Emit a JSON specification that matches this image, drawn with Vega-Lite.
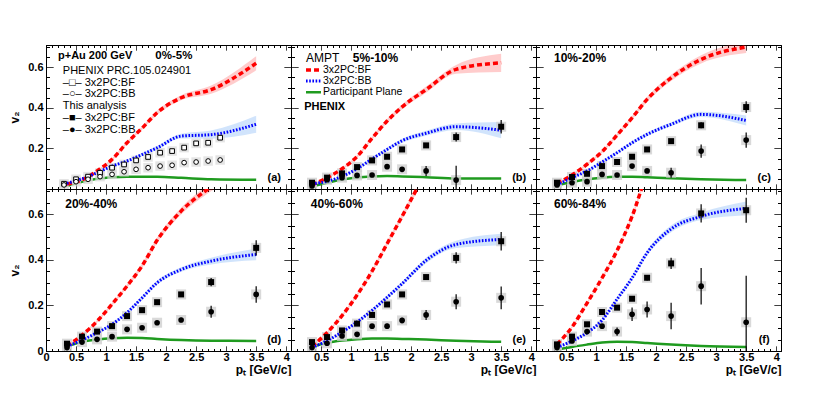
{
"$schema":"https://vega.github.io/schema/vega-lite/v6.json",
"background":"white",
"padding":{"left":8,"top":40,"right":0,"bottom":0},
"config":{
 "view":{"stroke":"black","strokeWidth":1},
 "font":"Liberation Sans",
 "text":{"font":"Liberation Sans","color":"black"},
 "axis":{"domainColor":"black","domainWidth":1,"tickColor":"black","tickWidth":1,"grid":false,"labelFont":"Liberation Sans","labelFontSize":11,"labelFontWeight":"bold","labelColor":"black","labelOverlap":false,"labelFlush":false,"titleFont":"Liberation Sans","titleFontSize":12,"titleFontWeight":"bold","titleColor":"black"},
 "axisX":{"tickCount":40,"tickSize":-5,"labelPadding":5,"titlePadding":2,"titleAnchor":"end","labelExpr":"abs(datum.value*2-round(datum.value*2))<0.01?format(datum.value,'~g'):''","tickDash":{"condition":{"test":"abs(datum.value*2-round(datum.value*2))>0.01","value":[2.5,20]},"value":[1,0]}},
 "axisY":{"tickCount":14,"tickSize":-7,"labelPadding":10,"titlePadding":6,"labelExpr":"abs(datum.value*5-round(datum.value*5))<0.01?format(datum.value,'.1~f'):''","tickDash":{"condition":{"test":"abs(datum.value*5-round(datum.value*5))>0.01","value":[3.5,20]},"value":[1,0]}}
},
"datasets":{
"c":[
{"p":"a","k":"BF","x":0.35,"y":0.025,"lo":0.021,"hi":0.029},{"p":"a","k":"BF","x":0.6,"y":0.045,"lo":0.041,"hi":0.049},{"p":"a","k":"BF","x":0.85,"y":0.089,"lo":0.084,"hi":0.094},{"p":"a","k":"BF","x":1.1,"y":0.146,"lo":0.14,"hi":0.152},{"p":"a","k":"BF","x":1.35,"y":0.228,"lo":0.221,"hi":0.235},{"p":"a","k":"BF","x":1.6,"y":0.3,"lo":0.292,"hi":0.308},{"p":"a","k":"BF","x":1.85,"y":0.376,"lo":0.366,"hi":0.386},{"p":"a","k":"BF","x":2.25,"y":0.45,"lo":0.438,"hi":0.462},{"p":"a","k":"BF","x":2.75,"y":0.49,"lo":0.47,"hi":0.51},{"p":"a","k":"BF","x":3.5,"y":0.62,"lo":0.585,"hi":0.655},
{"p":"a","k":"BB","x":0.35,"y":0.028,"lo":0.024,"hi":0.032},{"p":"a","k":"BB","x":0.6,"y":0.05,"lo":0.046,"hi":0.054},{"p":"a","k":"BB","x":0.85,"y":0.08,"lo":0.075,"hi":0.085},{"p":"a","k":"BB","x":1.1,"y":0.113,"lo":0.107,"hi":0.119},{"p":"a","k":"BB","x":1.35,"y":0.138,"lo":0.131,"hi":0.145},{"p":"a","k":"BB","x":1.6,"y":0.17,"lo":0.162,"hi":0.178},{"p":"a","k":"BB","x":1.85,"y":0.203,"lo":0.194,"hi":0.212},{"p":"a","k":"BB","x":2.25,"y":0.261,"lo":0.249,"hi":0.273},{"p":"a","k":"BB","x":2.75,"y":0.268,"lo":0.248,"hi":0.288},{"p":"a","k":"BB","x":3.5,"y":0.319,"lo":0.277,"hi":0.361},
{"p":"a","k":"PP","x":0.35,"y":0.015},{"p":"a","k":"PP","x":0.6,"y":0.035},{"p":"a","k":"PP","x":0.85,"y":0.05},{"p":"a","k":"PP","x":1.1,"y":0.058},{"p":"a","k":"PP","x":1.35,"y":0.061},{"p":"a","k":"PP","x":1.6,"y":0.061},{"p":"a","k":"PP","x":1.85,"y":0.06},{"p":"a","k":"PP","x":2.25,"y":0.055},{"p":"a","k":"PP","x":2.75,"y":0.048},{"p":"a","k":"PP","x":3.5,"y":0.045},
{"p":"b","k":"BF","x":0.35,"y":0.02,"lo":0.016,"hi":0.024},{"p":"b","k":"BF","x":0.6,"y":0.055,"lo":0.05,"hi":0.06},{"p":"b","k":"BF","x":0.85,"y":0.1,"lo":0.094,"hi":0.106},{"p":"b","k":"BF","x":1.1,"y":0.16,"lo":0.153,"hi":0.167},{"p":"b","k":"BF","x":1.35,"y":0.25,"lo":0.242,"hi":0.258},{"p":"b","k":"BF","x":1.6,"y":0.335,"lo":0.325,"hi":0.345},{"p":"b","k":"BF","x":1.85,"y":0.405,"lo":0.393,"hi":0.417},{"p":"b","k":"BF","x":2.25,"y":0.49,"lo":0.475,"hi":0.505},{"p":"b","k":"BF","x":2.75,"y":0.59,"lo":0.568,"hi":0.612},{"p":"b","k":"BF","x":3.5,"y":0.622,"lo":0.577,"hi":0.667},
{"p":"b","k":"BB","x":0.35,"y":0.025,"lo":0.021,"hi":0.029},{"p":"b","k":"BB","x":0.6,"y":0.038,"lo":0.034,"hi":0.042},{"p":"b","k":"BB","x":0.85,"y":0.062,"lo":0.057,"hi":0.067},{"p":"b","k":"BB","x":1.1,"y":0.1,"lo":0.094,"hi":0.106},{"p":"b","k":"BB","x":1.35,"y":0.148,"lo":0.141,"hi":0.155},{"p":"b","k":"BB","x":1.6,"y":0.195,"lo":0.187,"hi":0.203},{"p":"b","k":"BB","x":1.85,"y":0.238,"lo":0.228,"hi":0.248},{"p":"b","k":"BB","x":2.25,"y":0.275,"lo":0.263,"hi":0.287},{"p":"b","k":"BB","x":2.75,"y":0.307,"lo":0.291,"hi":0.323},{"p":"b","k":"BB","x":3.5,"y":0.29,"lo":0.25,"hi":0.33},
{"p":"b","k":"PP","x":0.35,"y":0.012},{"p":"b","k":"PP","x":0.6,"y":0.031},{"p":"b","k":"PP","x":0.85,"y":0.047},{"p":"b","k":"PP","x":1.1,"y":0.057},{"p":"b","k":"PP","x":1.35,"y":0.062},{"p":"b","k":"PP","x":1.6,"y":0.064},{"p":"b","k":"PP","x":1.85,"y":0.062},{"p":"b","k":"PP","x":2.25,"y":0.058},{"p":"b","k":"PP","x":2.75,"y":0.052},{"p":"b","k":"PP","x":3.5,"y":0.052},
{"p":"c","k":"BF","x":0.35,"y":0.028,"lo":0.024,"hi":0.032},{"p":"c","k":"BF","x":0.6,"y":0.069,"lo":0.064,"hi":0.074},{"p":"c","k":"BF","x":0.85,"y":0.122,"lo":0.116,"hi":0.128},{"p":"c","k":"BF","x":1.1,"y":0.184,"lo":0.177,"hi":0.191},{"p":"c","k":"BF","x":1.35,"y":0.266,"lo":0.258,"hi":0.274},{"p":"c","k":"BF","x":1.6,"y":0.351,"lo":0.341,"hi":0.361},{"p":"c","k":"BF","x":1.85,"y":0.442,"lo":0.43,"hi":0.454},{"p":"c","k":"BF","x":2.25,"y":0.548,"lo":0.533,"hi":0.563},{"p":"c","k":"BF","x":2.75,"y":0.639,"lo":0.619,"hi":0.659},{"p":"c","k":"BF","x":3.5,"y":0.7,"lo":0.67,"hi":0.73},
{"p":"c","k":"BB","x":0.35,"y":0.02,"lo":0.016,"hi":0.024},{"p":"c","k":"BB","x":0.6,"y":0.056,"lo":0.052,"hi":0.06},{"p":"c","k":"BB","x":0.85,"y":0.089,"lo":0.084,"hi":0.094},{"p":"c","k":"BB","x":1.1,"y":0.133,"lo":0.127,"hi":0.139},{"p":"c","k":"BB","x":1.35,"y":0.179,"lo":0.172,"hi":0.186},{"p":"c","k":"BB","x":1.6,"y":0.228,"lo":0.22,"hi":0.236},{"p":"c","k":"BB","x":1.85,"y":0.269,"lo":0.26,"hi":0.278},{"p":"c","k":"BB","x":2.25,"y":0.319,"lo":0.309,"hi":0.329},{"p":"c","k":"BB","x":2.75,"y":0.368,"lo":0.355,"hi":0.381},{"p":"c","k":"BB","x":3.5,"y":0.338,"lo":0.313,"hi":0.363},
{"p":"c","k":"PP","x":0.35,"y":0.018},{"p":"c","k":"PP","x":0.6,"y":0.035},{"p":"c","k":"PP","x":0.85,"y":0.048},{"p":"c","k":"PP","x":1.1,"y":0.056},{"p":"c","k":"PP","x":1.35,"y":0.06},{"p":"c","k":"PP","x":1.6,"y":0.061},{"p":"c","k":"PP","x":1.85,"y":0.058},{"p":"c","k":"PP","x":2.25,"y":0.053},{"p":"c","k":"PP","x":2.75,"y":0.048},{"p":"c","k":"PP","x":3.5,"y":0.044},
{"p":"d","k":"BF","x":0.35,"y":0.022,"lo":0.018,"hi":0.026},{"p":"d","k":"BF","x":0.6,"y":0.07,"lo":0.065,"hi":0.075},{"p":"d","k":"BF","x":0.85,"y":0.13,"lo":0.124,"hi":0.136},{"p":"d","k":"BF","x":1.1,"y":0.205,"lo":0.198,"hi":0.212},{"p":"d","k":"BF","x":1.35,"y":0.285,"lo":0.277,"hi":0.293},{"p":"d","k":"BF","x":1.6,"y":0.373,"lo":0.363,"hi":0.383},{"p":"d","k":"BF","x":1.85,"y":0.485,"lo":0.473,"hi":0.497},{"p":"d","k":"BF","x":2.25,"y":0.613,"lo":0.598,"hi":0.628},{"p":"d","k":"BF","x":2.75,"y":0.72,"lo":0.7,"hi":0.74},{"p":"d","k":"BF","x":3.5,"y":0.85,"lo":0.82,"hi":0.88},
{"p":"d","k":"BB","x":0.35,"y":0.02,"lo":0.016,"hi":0.024},{"p":"d","k":"BB","x":0.6,"y":0.048,"lo":0.044,"hi":0.052},{"p":"d","k":"BB","x":0.85,"y":0.08,"lo":0.075,"hi":0.085},{"p":"d","k":"BB","x":1.1,"y":0.117,"lo":0.111,"hi":0.123},{"p":"d","k":"BB","x":1.35,"y":0.168,"lo":0.161,"hi":0.175},{"p":"d","k":"BB","x":1.6,"y":0.233,"lo":0.225,"hi":0.241},{"p":"d","k":"BB","x":1.85,"y":0.299,"lo":0.29,"hi":0.308},{"p":"d","k":"BB","x":2.25,"y":0.357,"lo":0.347,"hi":0.367},{"p":"d","k":"BB","x":2.75,"y":0.394,"lo":0.379,"hi":0.409},{"p":"d","k":"BB","x":3.5,"y":0.423,"lo":0.398,"hi":0.448},
{"p":"d","k":"PP","x":0.35,"y":0.02},{"p":"d","k":"PP","x":0.6,"y":0.04},{"p":"d","k":"PP","x":0.85,"y":0.05},{"p":"d","k":"PP","x":1.1,"y":0.056},{"p":"d","k":"PP","x":1.35,"y":0.058},{"p":"d","k":"PP","x":1.6,"y":0.057},{"p":"d","k":"PP","x":1.85,"y":0.053},{"p":"d","k":"PP","x":2.25,"y":0.048},{"p":"d","k":"PP","x":2.75,"y":0.045},{"p":"d","k":"PP","x":3.5,"y":0.044},
{"p":"e","k":"BF","x":0.35,"y":0.02,"lo":0.016,"hi":0.024},{"p":"e","k":"BF","x":0.6,"y":0.08,"lo":0.075,"hi":0.085},{"p":"e","k":"BF","x":0.85,"y":0.155,"lo":0.149,"hi":0.161},{"p":"e","k":"BF","x":1.1,"y":0.245,"lo":0.238,"hi":0.252},{"p":"e","k":"BF","x":1.35,"y":0.35,"lo":0.342,"hi":0.358},{"p":"e","k":"BF","x":1.6,"y":0.47,"lo":0.46,"hi":0.48},{"p":"e","k":"BF","x":1.85,"y":0.59,"lo":0.578,"hi":0.602},{"p":"e","k":"BF","x":2.25,"y":0.78,"lo":0.765,"hi":0.795},{"p":"e","k":"BF","x":2.75,"y":0.95,"lo":0.93,"hi":0.97},{"p":"e","k":"BF","x":3.5,"y":1.05,"lo":1.02,"hi":1.08},
{"p":"e","k":"BB","x":0.35,"y":0.015,"lo":0.011,"hi":0.019},{"p":"e","k":"BB","x":0.6,"y":0.045,"lo":0.041,"hi":0.049},{"p":"e","k":"BB","x":0.85,"y":0.083,"lo":0.078,"hi":0.088},{"p":"e","k":"BB","x":1.1,"y":0.127,"lo":0.121,"hi":0.133},{"p":"e","k":"BB","x":1.35,"y":0.178,"lo":0.171,"hi":0.185},{"p":"e","k":"BB","x":1.6,"y":0.235,"lo":0.227,"hi":0.243},{"p":"e","k":"BB","x":1.85,"y":0.295,"lo":0.286,"hi":0.304},{"p":"e","k":"BB","x":2.25,"y":0.397,"lo":0.385,"hi":0.409},{"p":"e","k":"BB","x":2.75,"y":0.467,"lo":0.451,"hi":0.483},{"p":"e","k":"BB","x":3.5,"y":0.489,"lo":0.464,"hi":0.514},
{"p":"e","k":"PP","x":0.35,"y":0.018},{"p":"e","k":"PP","x":0.6,"y":0.036},{"p":"e","k":"PP","x":0.85,"y":0.046},{"p":"e","k":"PP","x":1.1,"y":0.052},{"p":"e","k":"PP","x":1.35,"y":0.055},{"p":"e","k":"PP","x":1.6,"y":0.055},{"p":"e","k":"PP","x":1.85,"y":0.053},{"p":"e","k":"PP","x":2.25,"y":0.05},{"p":"e","k":"PP","x":2.75,"y":0.045},{"p":"e","k":"PP","x":3.5,"y":0.04},
{"p":"f","k":"BF","x":0.35,"y":0.029,"lo":0.025,"hi":0.033},{"p":"f","k":"BF","x":0.6,"y":0.105,"lo":0.1,"hi":0.11},{"p":"f","k":"BF","x":0.85,"y":0.21,"lo":0.204,"hi":0.216},{"p":"f","k":"BF","x":1.1,"y":0.32,"lo":0.313,"hi":0.327},{"p":"f","k":"BF","x":1.35,"y":0.44,"lo":0.432,"hi":0.448},{"p":"f","k":"BF","x":1.6,"y":0.59,"lo":0.58,"hi":0.6},{"p":"f","k":"BF","x":1.85,"y":0.78,"lo":0.768,"hi":0.792},{"p":"f","k":"BF","x":2.25,"y":1.0,"lo":0.985,"hi":1.015},{"p":"f","k":"BF","x":2.75,"y":1.2,"lo":1.18,"hi":1.22},{"p":"f","k":"BF","x":3.5,"y":1.3,"lo":1.27,"hi":1.33},
{"p":"f","k":"BB","x":0.35,"y":0.015,"lo":0.011,"hi":0.019},{"p":"f","k":"BB","x":0.6,"y":0.044,"lo":0.04,"hi":0.048},{"p":"f","k":"BB","x":0.85,"y":0.08,"lo":0.075,"hi":0.085},{"p":"f","k":"BB","x":1.1,"y":0.135,"lo":0.129,"hi":0.141},{"p":"f","k":"BB","x":1.35,"y":0.227,"lo":0.219,"hi":0.235},{"p":"f","k":"BB","x":1.6,"y":0.32,"lo":0.31,"hi":0.33},{"p":"f","k":"BB","x":1.85,"y":0.43,"lo":0.418,"hi":0.442},{"p":"f","k":"BB","x":2.25,"y":0.535,"lo":0.52,"hi":0.55},{"p":"f","k":"BB","x":2.75,"y":0.59,"lo":0.574,"hi":0.606},{"p":"f","k":"BB","x":3.5,"y":0.625,"lo":0.595,"hi":0.655},
{"p":"f","k":"PP","x":0.35,"y":0.006},{"p":"f","k":"PP","x":0.6,"y":0.018},{"p":"f","k":"PP","x":0.85,"y":0.028},{"p":"f","k":"PP","x":1.1,"y":0.037},{"p":"f","k":"PP","x":1.35,"y":0.04},{"p":"f","k":"PP","x":1.6,"y":0.039},{"p":"f","k":"PP","x":1.85,"y":0.035},{"p":"f","k":"PP","x":2.25,"y":0.028},{"p":"f","k":"PP","x":2.75,"y":0.022},{"p":"f","k":"PP","x":3.5,"y":0.018}
],
"pt":[
{"p":"a","k":"oF","x":0.3,"y":0.026},{"p":"a","k":"oF","x":0.5,"y":0.048},{"p":"a","k":"oF","x":0.7,"y":0.061},{"p":"a","k":"oF","x":0.9,"y":0.08},{"p":"a","k":"oF","x":1.1,"y":0.105},{"p":"a","k":"oF","x":1.3,"y":0.121},{"p":"a","k":"oF","x":1.5,"y":0.141},{"p":"a","k":"oF","x":1.7,"y":0.158},{"p":"a","k":"oF","x":1.9,"y":0.179},{"p":"a","k":"oF","x":2.1,"y":0.187},{"p":"a","k":"oF","x":2.3,"y":0.204},{"p":"a","k":"oF","x":2.5,"y":0.225},{"p":"a","k":"oF","x":2.7,"y":0.228},{"p":"a","k":"oF","x":2.9,"y":0.253},
{"p":"a","k":"oB","x":0.3,"y":0.02},{"p":"a","k":"oB","x":0.5,"y":0.036},{"p":"a","k":"oB","x":0.7,"y":0.048},{"p":"a","k":"oB","x":0.9,"y":0.061},{"p":"a","k":"oB","x":1.1,"y":0.072},{"p":"a","k":"oB","x":1.3,"y":0.085},{"p":"a","k":"oB","x":1.5,"y":0.097},{"p":"a","k":"oB","x":1.7,"y":0.105},{"p":"a","k":"oB","x":1.9,"y":0.113},{"p":"a","k":"oB","x":2.1,"y":0.117},{"p":"a","k":"oB","x":2.3,"y":0.13},{"p":"a","k":"oB","x":2.5,"y":0.133},{"p":"a","k":"oB","x":2.7,"y":0.138},{"p":"a","k":"oB","x":2.9,"y":0.143},
{"p":"b","k":"F","x":0.35,"y":0.031,"lo":0.021,"hi":0.041},{"p":"b","k":"F","x":0.6,"y":0.056,"lo":0.048,"hi":0.064},{"p":"b","k":"F","x":0.85,"y":0.077,"lo":0.071,"hi":0.083},{"p":"b","k":"F","x":1.1,"y":0.108,"lo":0.102,"hi":0.114},{"p":"b","k":"F","x":1.35,"y":0.141,"lo":0.135,"hi":0.147},{"p":"b","k":"F","x":1.6,"y":0.159,"lo":0.152,"hi":0.166},{"p":"b","k":"F","x":1.85,"y":0.195,"lo":0.187,"hi":0.203},{"p":"b","k":"F","x":2.25,"y":0.215,"lo":0.205,"hi":0.225},{"p":"b","k":"F","x":2.75,"y":0.256,"lo":0.234,"hi":0.278},{"p":"b","k":"F","x":3.5,"y":0.307,"lo":0.274,"hi":0.34},
{"p":"b","k":"B","x":0.35,"y":0.015,"lo":0.007,"hi":0.023},{"p":"b","k":"B","x":0.6,"y":0.046,"lo":0.038,"hi":0.054},{"p":"b","k":"B","x":0.85,"y":0.056,"lo":0.05,"hi":0.062},{"p":"b","k":"B","x":1.1,"y":0.067,"lo":0.061,"hi":0.073},{"p":"b","k":"B","x":1.35,"y":0.069,"lo":0.063,"hi":0.075},{"p":"b","k":"B","x":1.6,"y":0.11,"lo":0.102,"hi":0.118},{"p":"b","k":"B","x":1.85,"y":0.097,"lo":0.085,"hi":0.109},{"p":"b","k":"B","x":2.25,"y":0.089,"lo":0.064,"hi":0.114},{"p":"b","k":"B","x":2.75,"y":0.044,"lo":-0.013,"hi":0.115},
{"p":"c","k":"F","x":0.35,"y":0.031,"lo":0.023,"hi":0.039},{"p":"c","k":"F","x":0.6,"y":0.059,"lo":0.052,"hi":0.066},{"p":"c","k":"F","x":0.85,"y":0.075,"lo":0.069,"hi":0.081},{"p":"c","k":"F","x":1.1,"y":0.113,"lo":0.107,"hi":0.119},{"p":"c","k":"F","x":1.35,"y":0.133,"lo":0.127,"hi":0.139},{"p":"c","k":"F","x":1.6,"y":0.159,"lo":0.153,"hi":0.165},{"p":"c","k":"F","x":1.85,"y":0.195,"lo":0.188,"hi":0.202},{"p":"c","k":"F","x":2.25,"y":0.236,"lo":0.228,"hi":0.244},{"p":"c","k":"F","x":2.75,"y":0.314,"lo":0.299,"hi":0.329},{"p":"c","k":"F","x":3.5,"y":0.404,"lo":0.375,"hi":0.433},
{"p":"c","k":"B","x":0.35,"y":0.02,"lo":0.014,"hi":0.026},{"p":"c","k":"B","x":0.6,"y":0.031,"lo":0.025,"hi":0.037},{"p":"c","k":"B","x":0.85,"y":0.036,"lo":0.03,"hi":0.042},{"p":"c","k":"B","x":1.1,"y":0.072,"lo":0.066,"hi":0.078},{"p":"c","k":"B","x":1.35,"y":0.069,"lo":0.063,"hi":0.075},{"p":"c","k":"B","x":1.6,"y":0.113,"lo":0.105,"hi":0.121},{"p":"c","k":"B","x":1.85,"y":0.089,"lo":0.079,"hi":0.099},{"p":"c","k":"B","x":2.25,"y":0.08,"lo":0.055,"hi":0.105},{"p":"c","k":"B","x":2.75,"y":0.187,"lo":0.154,"hi":0.22},{"p":"c","k":"B","x":3.5,"y":0.241,"lo":0.204,"hi":0.278},
{"p":"d","k":"F","x":0.35,"y":0.032,"lo":0.025,"hi":0.039},{"p":"d","k":"F","x":0.6,"y":0.063,"lo":0.057,"hi":0.069},{"p":"d","k":"F","x":0.85,"y":0.085,"lo":0.079,"hi":0.091},{"p":"d","k":"F","x":1.1,"y":0.109,"lo":0.103,"hi":0.115},{"p":"d","k":"F","x":1.35,"y":0.153,"lo":0.147,"hi":0.159},{"p":"d","k":"F","x":1.6,"y":0.179,"lo":0.173,"hi":0.185},{"p":"d","k":"F","x":1.85,"y":0.214,"lo":0.208,"hi":0.22},{"p":"d","k":"F","x":2.25,"y":0.248,"lo":0.24,"hi":0.256},{"p":"d","k":"F","x":2.75,"y":0.302,"lo":0.284,"hi":0.32},{"p":"d","k":"F","x":3.5,"y":0.452,"lo":0.419,"hi":0.485},
{"p":"d","k":"B","x":0.35,"y":0.015,"lo":0.009,"hi":0.021},{"p":"d","k":"B","x":0.6,"y":0.039,"lo":0.033,"hi":0.045},{"p":"d","k":"B","x":0.85,"y":0.051,"lo":0.045,"hi":0.057},{"p":"d","k":"B","x":1.1,"y":0.063,"lo":0.057,"hi":0.069},{"p":"d","k":"B","x":1.35,"y":0.095,"lo":0.089,"hi":0.101},{"p":"d","k":"B","x":1.6,"y":0.102,"lo":0.096,"hi":0.108},{"p":"d","k":"B","x":1.85,"y":0.124,"lo":0.116,"hi":0.132},{"p":"d","k":"B","x":2.25,"y":0.136,"lo":0.126,"hi":0.146},{"p":"d","k":"B","x":2.75,"y":0.172,"lo":0.146,"hi":0.198},{"p":"d","k":"B","x":3.5,"y":0.248,"lo":0.212,"hi":0.284},
{"p":"e","k":"F","x":0.35,"y":0.039,"lo":0.032,"hi":0.046},{"p":"e","k":"F","x":0.6,"y":0.061,"lo":0.055,"hi":0.067},{"p":"e","k":"F","x":0.85,"y":0.09,"lo":0.084,"hi":0.096},{"p":"e","k":"F","x":1.1,"y":0.12,"lo":0.114,"hi":0.126},{"p":"e","k":"F","x":1.35,"y":0.158,"lo":0.152,"hi":0.164},{"p":"e","k":"F","x":1.6,"y":0.204,"lo":0.197,"hi":0.211},{"p":"e","k":"F","x":1.85,"y":0.248,"lo":0.24,"hi":0.256},{"p":"e","k":"F","x":2.25,"y":0.324,"lo":0.314,"hi":0.334},{"p":"e","k":"F","x":2.75,"y":0.408,"lo":0.383,"hi":0.433},{"p":"e","k":"F","x":3.5,"y":0.481,"lo":0.441,"hi":0.521},
{"p":"e","k":"B","x":0.35,"y":0.015,"lo":0.009,"hi":0.021},{"p":"e","k":"B","x":0.6,"y":0.034,"lo":0.028,"hi":0.04},{"p":"e","k":"B","x":0.85,"y":0.066,"lo":0.06,"hi":0.072},{"p":"e","k":"B","x":1.1,"y":0.073,"lo":0.067,"hi":0.079},{"p":"e","k":"B","x":1.35,"y":0.109,"lo":0.103,"hi":0.115},{"p":"e","k":"B","x":1.6,"y":0.109,"lo":0.099,"hi":0.119},{"p":"e","k":"B","x":1.85,"y":0.134,"lo":0.122,"hi":0.146},{"p":"e","k":"B","x":2.25,"y":0.158,"lo":0.136,"hi":0.18},{"p":"e","k":"B","x":2.75,"y":0.216,"lo":0.183,"hi":0.249},{"p":"e","k":"B","x":3.5,"y":0.233,"lo":0.183,"hi":0.283},
{"p":"f","k":"F","x":0.35,"y":0.029,"lo":0.019,"hi":0.039},{"p":"f","k":"F","x":0.6,"y":0.063,"lo":0.053,"hi":0.073},{"p":"f","k":"F","x":0.85,"y":0.117,"lo":0.109,"hi":0.125},{"p":"f","k":"F","x":1.1,"y":0.171,"lo":0.163,"hi":0.179},{"p":"f","k":"F","x":1.35,"y":0.19,"lo":0.18,"hi":0.2},{"p":"f","k":"F","x":1.6,"y":0.229,"lo":0.219,"hi":0.239},{"p":"f","k":"F","x":1.85,"y":0.321,"lo":0.309,"hi":0.333},{"p":"f","k":"F","x":2.25,"y":0.384,"lo":0.359,"hi":0.409},{"p":"f","k":"F","x":2.75,"y":0.603,"lo":0.563,"hi":0.643},{"p":"f","k":"F","x":3.5,"y":0.617,"lo":0.562,"hi":0.672},
{"p":"f","k":"B","x":0.35,"y":0.015,"lo":0.009,"hi":0.021},{"p":"f","k":"B","x":0.6,"y":0.044,"lo":0.038,"hi":0.05},{"p":"f","k":"B","x":0.85,"y":0.085,"lo":0.077,"hi":0.093},{"p":"f","k":"B","x":1.1,"y":0.109,"lo":0.101,"hi":0.117},{"p":"f","k":"B","x":1.35,"y":0.085,"lo":0.067,"hi":0.103},{"p":"f","k":"B","x":1.6,"y":0.161,"lo":0.131,"hi":0.191},{"p":"f","k":"B","x":1.85,"y":0.182,"lo":0.147,"hi":0.217},{"p":"f","k":"B","x":2.25,"y":0.153,"lo":0.095,"hi":0.211},{"p":"f","k":"B","x":2.75,"y":0.284,"lo":0.204,"hi":0.364},{"p":"f","k":"B","x":3.5,"y":0.126,"lo":-0.03,"hi":0.33}
]
},
"columns":3,
"spacing":0,
"bounds":"flush",
"concat":[
{"width":245,"height":144,"resolve":{"axis":{"x":"independent","y":"independent"}},"layer":[
 {"data":{"name":"c"},"transform":[{"filter":"datum.p=='a'&&datum.k=='PP'"}],"mark":{"type":"line","color":"#1f9b1f","strokeWidth":2.5,"interpolate":"monotone","clip":true},"encoding":{"x":{"field":"x","type":"quantitative","scale":{"domain":[0,4.08],"nice":false},"axis":{"orient":"top","labels":false,"title":null}},"y":{"field":"y","type":"quantitative","scale":{"domain":[0,0.71],"nice":false,"zero":false},"axis":{"orient":"right","labels":false,"title":null}}}},
 {"layer":[
  {"data":{"name":"c"},"transform":[{"filter":"datum.p=='a'&&datum.k=='BF'"}],"mark":{"type":"area","color":"#ff0000","opacity":0.2,"interpolate":"monotone","clip":true},"encoding":{"x":{"field":"x","type":"quantitative","scale":{"domain":[0,4.08],"nice":false},"axis":{"orient":"bottom","labels":false,"title":null}},"y":{"field":"lo","type":"quantitative","scale":{"domain":[0,0.71],"nice":false,"zero":false},"axis":{"orient":"left","title":"v₂","labelExpr":"datum.value>0.01&&abs(datum.value*5-round(datum.value*5))<0.01?format(datum.value,'.1~f'):''"}},"y2":{"field":"hi"}}},
  {"data":{"name":"c"},"transform":[{"filter":"datum.p=='a'&&datum.k=='BB'"}],"mark":{"type":"area","color":"#2f86f0","opacity":0.22,"interpolate":"monotone","clip":true},"encoding":{"x":{"field":"x","type":"quantitative"},"y":{"field":"lo","type":"quantitative"},"y2":{"field":"hi"}}},
  {"data":{"name":"pt"},"transform":[{"filter":"datum.p=='a'"}],"mark":{"type":"point","shape":"square","filled":true,"color":"#d8d8d8","size":90,"opacity":0.7,"clip":true},"encoding":{"x":{"field":"x","type":"quantitative"},"y":{"field":"y","type":"quantitative"}}},
  {"data":{"name":"c"},"transform":[{"filter":"datum.p=='a'&&datum.k=='BF'"}],"mark":{"type":"line","color":"#ff0000","strokeWidth":3.5,"strokeDash":[5,3],"interpolate":"monotone","clip":true},"encoding":{"x":{"field":"x","type":"quantitative"},"y":{"field":"y","type":"quantitative"}}},
  {"data":{"name":"c"},"transform":[{"filter":"datum.p=='a'&&datum.k=='BB'"}],"mark":{"type":"line","color":"#0000ff","strokeWidth":3,"strokeDash":[1.6,1.6],"interpolate":"monotone","clip":true},"encoding":{"x":{"field":"x","type":"quantitative"},"y":{"field":"y","type":"quantitative"}}},
  {"data":{"name":"pt"},"transform":[{"filter":"datum.p=='a'&&datum.k=='oF'"}],"mark":{"type":"point","shape":"square","filled":true,"fill":"white","stroke":"black","strokeWidth":1,"size":22,"opacity":1},"encoding":{"x":{"field":"x","type":"quantitative"},"y":{"field":"y","type":"quantitative"}}},
  {"data":{"name":"pt"},"transform":[{"filter":"datum.p=='a'&&datum.k=='oB'"}],"mark":{"type":"point","shape":"circle","filled":true,"fill":"white","stroke":"black","strokeWidth":1,"size":22,"opacity":1},"encoding":{"x":{"field":"x","type":"quantitative"},"y":{"field":"y","type":"quantitative"}}},
  {"data":{"values":[{}]},"mark":{"type":"text","text":"p+Au 200 GeV","align":"left","baseline":"middle","fontSize":11,"fontWeight":"bold"},"encoding":{"x":{"datum":0.2},"y":{"datum":0.655}}},
  {"data":{"values":[{}]},"mark":{"type":"text","text":"0%-5%","align":"left","baseline":"middle","fontSize":11.5,"fontWeight":"bold"},"encoding":{"x":{"datum":1.82},"y":{"datum":0.655}}},
  {"data":{"values":[{}]},"mark":{"type":"text","text":["PHENIX PRC.105.024901","–□– 3x2PC:BF","–○– 3x2PC:BB","This analysis","–■– 3x2PC:BF","–●– 3x2PC:BB"],"align":"left","baseline":"top","fontSize":11,"lineHeight":11.7},"encoding":{"x":{"datum":0.28},"y":{"datum":0.611}}},
  {"data":{"values":[{}]},"mark":{"type":"text","text":"(a)","align":"center","baseline":"middle","fontSize":11,"fontWeight":"bold"},"encoding":{"x":{"datum":3.8},"y":{"datum":0.056}}}
 ]}
]},
{"width":245,"height":144,"resolve":{"axis":{"x":"independent","y":"independent"}},"layer":[
 {"data":{"name":"c"},"transform":[{"filter":"datum.p=='b'&&datum.k=='PP'"}],"mark":{"type":"line","color":"#1f9b1f","strokeWidth":2.5,"interpolate":"monotone","clip":true},"encoding":{"x":{"field":"x","type":"quantitative","scale":{"domain":[0,4.08],"nice":false},"axis":{"orient":"top","labels":false,"title":null}},"y":{"field":"y","type":"quantitative","scale":{"domain":[0,0.71],"nice":false,"zero":false},"axis":{"orient":"right","labels":false,"title":null}}}},
 {"layer":[
  {"data":{"name":"c"},"transform":[{"filter":"datum.p=='b'&&datum.k=='BF'"}],"mark":{"type":"area","color":"#ff0000","opacity":0.2,"interpolate":"monotone","clip":true},"encoding":{"x":{"field":"x","type":"quantitative","scale":{"domain":[0,4.08],"nice":false},"axis":{"orient":"bottom","labels":false,"title":null}},"y":{"field":"lo","type":"quantitative","scale":{"domain":[0,0.71],"nice":false,"zero":false},"axis":{"orient":"left","labels":false,"title":null}},"y2":{"field":"hi"}}},
  {"data":{"name":"c"},"transform":[{"filter":"datum.p=='b'&&datum.k=='BB'"}],"mark":{"type":"area","color":"#2f86f0","opacity":0.22,"interpolate":"monotone","clip":true},"encoding":{"x":{"field":"x","type":"quantitative"},"y":{"field":"lo","type":"quantitative"},"y2":{"field":"hi"}}},
  {"data":{"name":"pt"},"transform":[{"filter":"datum.p=='b'"}],"mark":{"type":"point","shape":"square","filled":true,"color":"#d0d0d0","size":100,"opacity":0.8,"clip":true},"encoding":{"x":{"field":"x","type":"quantitative"},"y":{"field":"y","type":"quantitative"}}},
  {"data":{"name":"c"},"transform":[{"filter":"datum.p=='b'&&datum.k=='BF'"}],"mark":{"type":"line","color":"#ff0000","strokeWidth":3.5,"strokeDash":[5,3],"interpolate":"monotone","clip":true},"encoding":{"x":{"field":"x","type":"quantitative"},"y":{"field":"y","type":"quantitative"}}},
  {"data":{"name":"c"},"transform":[{"filter":"datum.p=='b'&&datum.k=='BB'"}],"mark":{"type":"line","color":"#0000ff","strokeWidth":3,"strokeDash":[1.6,1.6],"interpolate":"monotone","clip":true},"encoding":{"x":{"field":"x","type":"quantitative"},"y":{"field":"y","type":"quantitative"}}},
  {"data":{"name":"pt"},"transform":[{"filter":"datum.p=='b'"}],"mark":{"type":"rule","color":"black","strokeWidth":1.2,"clip":true},"encoding":{"x":{"field":"x","type":"quantitative"},"y":{"field":"lo","type":"quantitative"},"y2":{"field":"hi"}}},
  {"data":{"name":"pt"},"transform":[{"filter":"datum.p=='b'&&datum.k=='F'"}],"mark":{"type":"point","shape":"square","filled":true,"color":"black","size":36,"opacity":1},"encoding":{"x":{"field":"x","type":"quantitative"},"y":{"field":"y","type":"quantitative"}}},
  {"data":{"name":"pt"},"transform":[{"filter":"datum.p=='b'&&datum.k=='B'"}],"mark":{"type":"point","shape":"circle","filled":true,"color":"black","size":32,"opacity":1},"encoding":{"x":{"field":"x","type":"quantitative"},"y":{"field":"y","type":"quantitative"}}},
  {"data":{"values":[{}]},"mark":{"type":"text","text":"AMPT","align":"left","baseline":"middle","fontSize":12},"encoding":{"x":{"datum":0.25},"y":{"datum":0.647}}},
  {"data":{"values":[{}]},"mark":{"type":"text","text":"5%-10%","align":"left","baseline":"middle","fontSize":12,"fontWeight":"bold"},"encoding":{"x":{"datum":1.03},"y":{"datum":0.647}}},
  {"data":{"values":[{}]},"mark":{"type":"rule","color":"#ff0000","strokeWidth":3.5,"strokeDash":[5,3]},"encoding":{"x":{"datum":0.25},"x2":{"datum":0.5},"y":{"datum":0.587}}},
  {"data":{"values":[{}]},"mark":{"type":"rule","color":"#0000ff","strokeWidth":3,"strokeDash":[1.6,1.6]},"encoding":{"x":{"datum":0.25},"x2":{"datum":0.5},"y":{"datum":0.532}}},
  {"data":{"values":[{}]},"mark":{"type":"rule","color":"#1f9b1f","strokeWidth":2.5},"encoding":{"x":{"datum":0.25},"x2":{"datum":0.5},"y":{"datum":0.477}}},
  {"data":{"values":[{}]},"mark":{"type":"text","text":["3x2PC:BF","3x2PC:BB","Participant Plane"],"align":"left","baseline":"middle","fontSize":10.5,"lineHeight":11.2},"encoding":{"x":{"datum":0.533},"y":{"datum":0.587}}},
  {"data":{"values":[{}]},"mark":{"type":"text","text":"PHENIX","align":"left","baseline":"middle","fontSize":11,"fontWeight":"bold"},"encoding":{"x":{"datum":0.22},"y":{"datum":0.405}}},
  {"data":{"values":[{}]},"mark":{"type":"text","text":"(b)","align":"center","baseline":"middle","fontSize":11,"fontWeight":"bold"},"encoding":{"x":{"datum":3.8},"y":{"datum":0.056}}}
 ]}
]},
{"width":245,"height":144,"resolve":{"axis":{"x":"independent","y":"independent"}},"layer":[
 {"data":{"name":"c"},"transform":[{"filter":"datum.p=='c'&&datum.k=='PP'"}],"mark":{"type":"line","color":"#1f9b1f","strokeWidth":2.5,"interpolate":"monotone","clip":true},"encoding":{"x":{"field":"x","type":"quantitative","scale":{"domain":[0,4.08],"nice":false},"axis":{"orient":"top","labels":false,"title":null}},"y":{"field":"y","type":"quantitative","scale":{"domain":[0,0.71],"nice":false,"zero":false},"axis":{"orient":"right","labels":false,"title":null}}}},
 {"layer":[
  {"data":{"name":"c"},"transform":[{"filter":"datum.p=='c'&&datum.k=='BF'"}],"mark":{"type":"area","color":"#ff0000","opacity":0.2,"interpolate":"monotone","clip":true},"encoding":{"x":{"field":"x","type":"quantitative","scale":{"domain":[0,4.08],"nice":false},"axis":{"orient":"bottom","labels":false,"title":null}},"y":{"field":"lo","type":"quantitative","scale":{"domain":[0,0.71],"nice":false,"zero":false},"axis":{"orient":"left","labels":false,"title":null}},"y2":{"field":"hi"}}},
  {"data":{"name":"c"},"transform":[{"filter":"datum.p=='c'&&datum.k=='BB'"}],"mark":{"type":"area","color":"#2f86f0","opacity":0.22,"interpolate":"monotone","clip":true},"encoding":{"x":{"field":"x","type":"quantitative"},"y":{"field":"lo","type":"quantitative"},"y2":{"field":"hi"}}},
  {"data":{"name":"pt"},"transform":[{"filter":"datum.p=='c'"}],"mark":{"type":"point","shape":"square","filled":true,"color":"#d0d0d0","size":100,"opacity":0.8,"clip":true},"encoding":{"x":{"field":"x","type":"quantitative"},"y":{"field":"y","type":"quantitative"}}},
  {"data":{"name":"c"},"transform":[{"filter":"datum.p=='c'&&datum.k=='BF'"}],"mark":{"type":"line","color":"#ff0000","strokeWidth":3.5,"strokeDash":[5,3],"interpolate":"monotone","clip":true},"encoding":{"x":{"field":"x","type":"quantitative"},"y":{"field":"y","type":"quantitative"}}},
  {"data":{"name":"c"},"transform":[{"filter":"datum.p=='c'&&datum.k=='BB'"}],"mark":{"type":"line","color":"#0000ff","strokeWidth":3,"strokeDash":[1.6,1.6],"interpolate":"monotone","clip":true},"encoding":{"x":{"field":"x","type":"quantitative"},"y":{"field":"y","type":"quantitative"}}},
  {"data":{"name":"pt"},"transform":[{"filter":"datum.p=='c'"}],"mark":{"type":"rule","color":"black","strokeWidth":1.2,"clip":true},"encoding":{"x":{"field":"x","type":"quantitative"},"y":{"field":"lo","type":"quantitative"},"y2":{"field":"hi"}}},
  {"data":{"name":"pt"},"transform":[{"filter":"datum.p=='c'&&datum.k=='F'"}],"mark":{"type":"point","shape":"square","filled":true,"color":"black","size":36,"opacity":1},"encoding":{"x":{"field":"x","type":"quantitative"},"y":{"field":"y","type":"quantitative"}}},
  {"data":{"name":"pt"},"transform":[{"filter":"datum.p=='c'&&datum.k=='B'"}],"mark":{"type":"point","shape":"circle","filled":true,"color":"black","size":32,"opacity":1},"encoding":{"x":{"field":"x","type":"quantitative"},"y":{"field":"y","type":"quantitative"}}},
  {"data":{"values":[{}]},"mark":{"type":"text","text":"10%-20%","align":"left","baseline":"middle","fontSize":12,"fontWeight":"bold"},"encoding":{"x":{"datum":0.3},"y":{"datum":0.647}}},
  {"data":{"values":[{}]},"mark":{"type":"text","text":"(c)","align":"center","baseline":"middle","fontSize":11,"fontWeight":"bold"},"encoding":{"x":{"datum":3.8},"y":{"datum":0.056}}}
 ]}
]},
{"width":245,"height":162,"resolve":{"axis":{"x":"independent","y":"independent"}},"layer":[
 {"data":{"name":"c"},"transform":[{"filter":"datum.p=='d'&&datum.k=='PP'"}],"mark":{"type":"line","color":"#1f9b1f","strokeWidth":2.5,"interpolate":"monotone","clip":true},"encoding":{"x":{"field":"x","type":"quantitative","scale":{"domain":[0,4.08],"nice":false},"axis":{"orient":"top","labels":false,"title":null}},"y":{"field":"y","type":"quantitative","scale":{"domain":[0,0.71],"nice":false,"zero":false},"axis":{"orient":"right","labels":false,"title":null}}}},
 {"layer":[
  {"data":{"name":"c"},"transform":[{"filter":"datum.p=='d'&&datum.k=='BF'"}],"mark":{"type":"area","color":"#ff0000","opacity":0.2,"interpolate":"monotone","clip":true},"encoding":{"x":{"field":"x","type":"quantitative","scale":{"domain":[0,4.08],"nice":false},"axis":{"orient":"bottom","title":"pₜ [GeV/c]"}},"y":{"field":"lo","type":"quantitative","scale":{"domain":[0,0.71],"nice":false,"zero":false},"axis":{"orient":"left","title":"v₂"}},"y2":{"field":"hi"}}},
  {"data":{"name":"c"},"transform":[{"filter":"datum.p=='d'&&datum.k=='BB'"}],"mark":{"type":"area","color":"#2f86f0","opacity":0.22,"interpolate":"monotone","clip":true},"encoding":{"x":{"field":"x","type":"quantitative"},"y":{"field":"lo","type":"quantitative"},"y2":{"field":"hi"}}},
  {"data":{"name":"pt"},"transform":[{"filter":"datum.p=='d'"}],"mark":{"type":"point","shape":"square","filled":true,"color":"#d0d0d0","size":100,"opacity":0.8,"clip":true},"encoding":{"x":{"field":"x","type":"quantitative"},"y":{"field":"y","type":"quantitative"}}},
  {"data":{"name":"c"},"transform":[{"filter":"datum.p=='d'&&datum.k=='BF'"}],"mark":{"type":"line","color":"#ff0000","strokeWidth":3.5,"strokeDash":[5,3],"interpolate":"monotone","clip":true},"encoding":{"x":{"field":"x","type":"quantitative"},"y":{"field":"y","type":"quantitative"}}},
  {"data":{"name":"c"},"transform":[{"filter":"datum.p=='d'&&datum.k=='BB'"}],"mark":{"type":"line","color":"#0000ff","strokeWidth":3,"strokeDash":[1.6,1.6],"interpolate":"monotone","clip":true},"encoding":{"x":{"field":"x","type":"quantitative"},"y":{"field":"y","type":"quantitative"}}},
  {"data":{"name":"pt"},"transform":[{"filter":"datum.p=='d'"}],"mark":{"type":"rule","color":"black","strokeWidth":1.2,"clip":true},"encoding":{"x":{"field":"x","type":"quantitative"},"y":{"field":"lo","type":"quantitative"},"y2":{"field":"hi"}}},
  {"data":{"name":"pt"},"transform":[{"filter":"datum.p=='d'&&datum.k=='F'"}],"mark":{"type":"point","shape":"square","filled":true,"color":"black","size":36,"opacity":1},"encoding":{"x":{"field":"x","type":"quantitative"},"y":{"field":"y","type":"quantitative"}}},
  {"data":{"name":"pt"},"transform":[{"filter":"datum.p=='d'&&datum.k=='B'"}],"mark":{"type":"point","shape":"circle","filled":true,"color":"black","size":32,"opacity":1},"encoding":{"x":{"field":"x","type":"quantitative"},"y":{"field":"y","type":"quantitative"}}},
  {"data":{"values":[{}]},"mark":{"type":"text","text":"20%-40%","align":"left","baseline":"middle","fontSize":12,"fontWeight":"bold"},"encoding":{"x":{"datum":0.32},"y":{"datum":0.643}}},
  {"data":{"values":[{}]},"mark":{"type":"text","text":"(d)","align":"center","baseline":"middle","fontSize":11,"fontWeight":"bold"},"encoding":{"x":{"datum":3.8},"y":{"datum":0.048}}}
 ]}
]},
{"width":245,"height":162,"resolve":{"axis":{"x":"independent","y":"independent"}},"layer":[
 {"data":{"name":"c"},"transform":[{"filter":"datum.p=='e'&&datum.k=='PP'"}],"mark":{"type":"line","color":"#1f9b1f","strokeWidth":2.5,"interpolate":"monotone","clip":true},"encoding":{"x":{"field":"x","type":"quantitative","scale":{"domain":[0,4.08],"nice":false},"axis":{"orient":"top","labels":false,"title":null}},"y":{"field":"y","type":"quantitative","scale":{"domain":[0,0.71],"nice":false,"zero":false},"axis":{"orient":"right","labels":false,"title":null}}}},
 {"layer":[
  {"data":{"name":"c"},"transform":[{"filter":"datum.p=='e'&&datum.k=='BF'"}],"mark":{"type":"area","color":"#ff0000","opacity":0.2,"interpolate":"monotone","clip":true},"encoding":{"x":{"field":"x","type":"quantitative","scale":{"domain":[0,4.08],"nice":false},"axis":{"orient":"bottom","title":"pₜ [GeV/c]","labelExpr":"datum.value>0.01&&abs(datum.value*2-round(datum.value*2))<0.01?format(datum.value,'~g'):''"}},"y":{"field":"lo","type":"quantitative","scale":{"domain":[0,0.71],"nice":false,"zero":false},"axis":{"orient":"left","labels":false,"title":null}},"y2":{"field":"hi"}}},
  {"data":{"name":"c"},"transform":[{"filter":"datum.p=='e'&&datum.k=='BB'"}],"mark":{"type":"area","color":"#2f86f0","opacity":0.22,"interpolate":"monotone","clip":true},"encoding":{"x":{"field":"x","type":"quantitative"},"y":{"field":"lo","type":"quantitative"},"y2":{"field":"hi"}}},
  {"data":{"name":"pt"},"transform":[{"filter":"datum.p=='e'"}],"mark":{"type":"point","shape":"square","filled":true,"color":"#d0d0d0","size":100,"opacity":0.8,"clip":true},"encoding":{"x":{"field":"x","type":"quantitative"},"y":{"field":"y","type":"quantitative"}}},
  {"data":{"name":"c"},"transform":[{"filter":"datum.p=='e'&&datum.k=='BF'"}],"mark":{"type":"line","color":"#ff0000","strokeWidth":3.5,"strokeDash":[5,3],"interpolate":"monotone","clip":true},"encoding":{"x":{"field":"x","type":"quantitative"},"y":{"field":"y","type":"quantitative"}}},
  {"data":{"name":"c"},"transform":[{"filter":"datum.p=='e'&&datum.k=='BB'"}],"mark":{"type":"line","color":"#0000ff","strokeWidth":3,"strokeDash":[1.6,1.6],"interpolate":"monotone","clip":true},"encoding":{"x":{"field":"x","type":"quantitative"},"y":{"field":"y","type":"quantitative"}}},
  {"data":{"name":"pt"},"transform":[{"filter":"datum.p=='e'"}],"mark":{"type":"rule","color":"black","strokeWidth":1.2,"clip":true},"encoding":{"x":{"field":"x","type":"quantitative"},"y":{"field":"lo","type":"quantitative"},"y2":{"field":"hi"}}},
  {"data":{"name":"pt"},"transform":[{"filter":"datum.p=='e'&&datum.k=='F'"}],"mark":{"type":"point","shape":"square","filled":true,"color":"black","size":36,"opacity":1},"encoding":{"x":{"field":"x","type":"quantitative"},"y":{"field":"y","type":"quantitative"}}},
  {"data":{"name":"pt"},"transform":[{"filter":"datum.p=='e'&&datum.k=='B'"}],"mark":{"type":"point","shape":"circle","filled":true,"color":"black","size":32,"opacity":1},"encoding":{"x":{"field":"x","type":"quantitative"},"y":{"field":"y","type":"quantitative"}}},
  {"data":{"values":[{}]},"mark":{"type":"text","text":"40%-60%","align":"left","baseline":"middle","fontSize":12,"fontWeight":"bold"},"encoding":{"x":{"datum":0.33},"y":{"datum":0.643}}},
  {"data":{"values":[{}]},"mark":{"type":"text","text":"(e)","align":"center","baseline":"middle","fontSize":11,"fontWeight":"bold"},"encoding":{"x":{"datum":3.8},"y":{"datum":0.048}}}
 ]}
]},
{"width":245,"height":162,"resolve":{"axis":{"x":"independent","y":"independent"}},"layer":[
 {"data":{"name":"c"},"transform":[{"filter":"datum.p=='f'&&datum.k=='PP'"}],"mark":{"type":"line","color":"#1f9b1f","strokeWidth":2.5,"interpolate":"monotone","clip":true},"encoding":{"x":{"field":"x","type":"quantitative","scale":{"domain":[0,4.08],"nice":false},"axis":{"orient":"top","labels":false,"title":null}},"y":{"field":"y","type":"quantitative","scale":{"domain":[0,0.71],"nice":false,"zero":false},"axis":{"orient":"right","labels":false,"title":null}}}},
 {"layer":[
  {"data":{"name":"c"},"transform":[{"filter":"datum.p=='f'&&datum.k=='BF'"}],"mark":{"type":"area","color":"#ff0000","opacity":0.2,"interpolate":"monotone","clip":true},"encoding":{"x":{"field":"x","type":"quantitative","scale":{"domain":[0,4.08],"nice":false},"axis":{"orient":"bottom","title":"pₜ [GeV/c]","labelExpr":"datum.value>0.01&&abs(datum.value*2-round(datum.value*2))<0.01?format(datum.value,'~g'):''"}},"y":{"field":"lo","type":"quantitative","scale":{"domain":[0,0.71],"nice":false,"zero":false},"axis":{"orient":"left","labels":false,"title":null}},"y2":{"field":"hi"}}},
  {"data":{"name":"c"},"transform":[{"filter":"datum.p=='f'&&datum.k=='BB'"}],"mark":{"type":"area","color":"#2f86f0","opacity":0.22,"interpolate":"monotone","clip":true},"encoding":{"x":{"field":"x","type":"quantitative"},"y":{"field":"lo","type":"quantitative"},"y2":{"field":"hi"}}},
  {"data":{"name":"pt"},"transform":[{"filter":"datum.p=='f'"}],"mark":{"type":"point","shape":"square","filled":true,"color":"#d0d0d0","size":100,"opacity":0.8,"clip":true},"encoding":{"x":{"field":"x","type":"quantitative"},"y":{"field":"y","type":"quantitative"}}},
  {"data":{"name":"c"},"transform":[{"filter":"datum.p=='f'&&datum.k=='BF'"}],"mark":{"type":"line","color":"#ff0000","strokeWidth":3.5,"strokeDash":[5,3],"interpolate":"monotone","clip":true},"encoding":{"x":{"field":"x","type":"quantitative"},"y":{"field":"y","type":"quantitative"}}},
  {"data":{"name":"c"},"transform":[{"filter":"datum.p=='f'&&datum.k=='BB'"}],"mark":{"type":"line","color":"#0000ff","strokeWidth":3,"strokeDash":[1.6,1.6],"interpolate":"monotone","clip":true},"encoding":{"x":{"field":"x","type":"quantitative"},"y":{"field":"y","type":"quantitative"}}},
  {"data":{"name":"pt"},"transform":[{"filter":"datum.p=='f'"}],"mark":{"type":"rule","color":"black","strokeWidth":1.2,"clip":true},"encoding":{"x":{"field":"x","type":"quantitative"},"y":{"field":"lo","type":"quantitative"},"y2":{"field":"hi"}}},
  {"data":{"name":"pt"},"transform":[{"filter":"datum.p=='f'&&datum.k=='F'"}],"mark":{"type":"point","shape":"square","filled":true,"color":"black","size":36,"opacity":1},"encoding":{"x":{"field":"x","type":"quantitative"},"y":{"field":"y","type":"quantitative"}}},
  {"data":{"name":"pt"},"transform":[{"filter":"datum.p=='f'&&datum.k=='B'"}],"mark":{"type":"point","shape":"circle","filled":true,"color":"black","size":32,"opacity":1},"encoding":{"x":{"field":"x","type":"quantitative"},"y":{"field":"y","type":"quantitative"}}},
  {"data":{"values":[{}]},"mark":{"type":"text","text":"60%-84%","align":"left","baseline":"middle","fontSize":12,"fontWeight":"bold"},"encoding":{"x":{"datum":0.3},"y":{"datum":0.643}}},
  {"data":{"values":[{}]},"mark":{"type":"text","text":"(f)","align":"center","baseline":"middle","fontSize":11,"fontWeight":"bold"},"encoding":{"x":{"datum":3.8},"y":{"datum":0.048}}}
 ]}
]}
]
}
